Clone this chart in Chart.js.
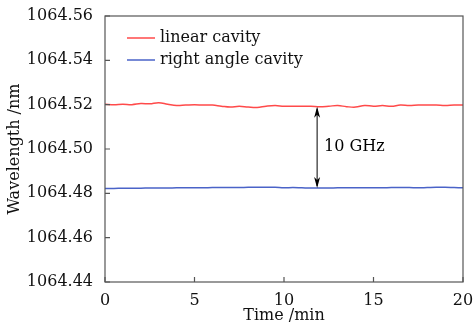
<!DOCTYPE html>
<html>
<head>
<meta charset="utf-8">
<script src="https://cdn.jsdelivr.net/npm/chart.js@4"></script>
<style>
  html, body { margin: 0; padding: 0; background: #fff; }
  #wrap { width: 476px; height: 328px; }
</style>
</head>
<body>
<div id="wrap"><canvas id="wl"></canvas></div>
<script>
// sampled every 0.5 min
const time = [0,0.5,1,1.5,2,2.5,3,3.5,4,4.5,5,5.5,6,6.5,7,7.5,8,8.5,9,9.5,10,
  10.5,11,11.5,12,12.5,13,13.5,14,14.5,15,15.5,16,16.5,17,17.5,18,18.5,19,19.5,20];
const linearCavity = [1064.5202,1064.5200,1064.5202,1064.5200,1064.5205,1064.5204,1064.5209,1064.5202,
  1064.5196,1064.5198,1064.5200,1064.5198,1064.5198,1064.5193,1064.5189,1064.5193,1064.5189,1064.5187,
  1064.5193,1064.5196,1064.5193,1064.5193,1064.5193,1064.5193,1064.5191,1064.5193,1064.5196,1064.5191,
  1064.5189,1064.5196,1064.5193,1064.5196,1064.5193,1064.5198,1064.5196,1064.5198,1064.5198,1064.5198,
  1064.5196,1064.5198,1064.5198];
const rightAngleCavity = [1064.4822,1064.4822,1064.4823,1064.4823,1064.4823,1064.4824,1064.4824,1064.4824,
  1064.4825,1064.4825,1064.4825,1064.4825,1064.4826,1064.4826,1064.4826,1064.4826,1064.4827,1064.4827,
  1064.4827,1064.4827,1064.4825,1064.4826,1064.4825,1064.4824,1064.4824,1064.4824,1064.4825,1064.4825,
  1064.4825,1064.4825,1064.4825,1064.4825,1064.4826,1064.4826,1064.4826,1064.4825,1064.4826,1064.4827,
  1064.4827,1064.4826,1064.4825];
const seriesNames = ['linear cavity', 'right angle cavity'];
const seriesColors = ['#ff4a4a', '#4a63c8'];
const gapTime = 11.85;
const gapLabel = '10 GHz';

const FONT = 'DejaVu Serif';

function pts(ys) { return time.map((t, i) => ({x: t, y: ys[i]})); }

// frame, inward ticks, legend and the 10 GHz arrow
const decorations = {
  id: 'decorations',
  afterDatasetsDraw(chart) {
    const {ctx, chartArea: a, scales: {x, y}} = chart;
    ctx.save();
    ctx.strokeStyle = '#555';
    ctx.lineWidth = 1.2;
    ctx.strokeRect(a.left, a.top, a.right - a.left, a.bottom - a.top);
    ctx.beginPath();
    x.ticks.forEach(t => {
      const px = x.getPixelForValue(t.value);
      ctx.moveTo(px, a.bottom); ctx.lineTo(px, a.bottom - 5);
    });
    y.ticks.forEach(t => {
      const py = y.getPixelForValue(t.value);
      ctx.moveTo(a.left, py); ctx.lineTo(a.left + 5, py);
    });
    ctx.stroke();

    // legend
    ctx.font = '16px "' + FONT + '"';
    ctx.textBaseline = 'middle';
    ctx.fillStyle = '#111';
    seriesNames.forEach((name, i) => {
      const ly = 38 + i * 22;
      ctx.strokeStyle = seriesColors[i];
      ctx.lineWidth = 1.5;
      ctx.beginPath();
      ctx.moveTo(127, ly); ctx.lineTo(155, ly);
      ctx.stroke();
      ctx.fillText(name, 160, ly);
    });

    // double arrow between the two lines
    const ax = x.getPixelForValue(gapTime);
    const i = time.indexOf(12);
    const y1 = y.getPixelForValue(linearCavity[i]);
    const y2 = y.getPixelForValue(rightAngleCavity[i]);
    ctx.strokeStyle = '#000';
    ctx.fillStyle = '#000';
    ctx.lineWidth = 1;
    ctx.beginPath();
    ctx.moveTo(ax, y1 + 2); ctx.lineTo(ax, y2 - 2);
    ctx.stroke();
    [[y1, 1], [y2, -1]].forEach(([py, d]) => {
      ctx.beginPath();
      ctx.moveTo(ax, py);
      ctx.lineTo(ax - 3, py + d * 11);
      ctx.lineTo(ax, py + d * 8);
      ctx.lineTo(ax + 3, py + d * 11);
      ctx.closePath();
      ctx.fill();
    });
    ctx.textAlign = 'left';
    ctx.fillText(gapLabel, ax + 7, (y1 + y2) / 2);
    ctx.restore();
  }
};

new Chart(document.getElementById('wl'), {
  type: 'line',
  data: {
    datasets: [
      {label: seriesNames[0], data: pts(linearCavity), borderColor: seriesColors[0], borderWidth: 1.5,
        pointRadius: 0, tension: 0.4, fill: false},
      {label: seriesNames[1], data: pts(rightAngleCavity), borderColor: seriesColors[1], borderWidth: 1.5,
        pointRadius: 0, tension: 0.4, fill: false}
    ]
  },
  options: {
    responsive: true,
    maintainAspectRatio: false,
    animation: false,
    layout: {padding: {top: 16, right: 13, left: 0, bottom: 0}},
    plugins: {legend: {display: false}, tooltip: {enabled: false}},
    scales: {
      x: {
        type: 'linear', min: 0, max: 20,
        grid: {display: false},
        border: {display: false},
        afterFit(s) { s.height = 46; },
        ticks: {stepSize: 5, color: '#111', font: {family: FONT, size: 16}, padding: 1, maxRotation: 0},
        title: {display: true, text: 'Time /min', color: '#111', font: {family: FONT, size: 16}, padding: {top: 0, bottom: 3}}
      },
      y: {
        min: 1064.44, max: 1064.56,
        grid: {display: false},
        border: {display: false},
        afterFit(s) { s.width = 105; },
        afterBuildTicks(s) {
          s.ticks = [];
          for (let k = 0; k <= 6; k++) s.ticks.push({value: 1064.44 + k * 0.02});
        },
        ticks: {color: '#111', font: {family: FONT, size: 16}, padding: 4,
          callback: v => v.toFixed(2)},
        title: {display: true, text: 'Wavelength /nm', color: '#111', font: {family: FONT, size: 16}, padding: {top: 5, bottom: 0}}
      }
    }
  },
  plugins: [decorations]
});
</script>
</body>
</html>
